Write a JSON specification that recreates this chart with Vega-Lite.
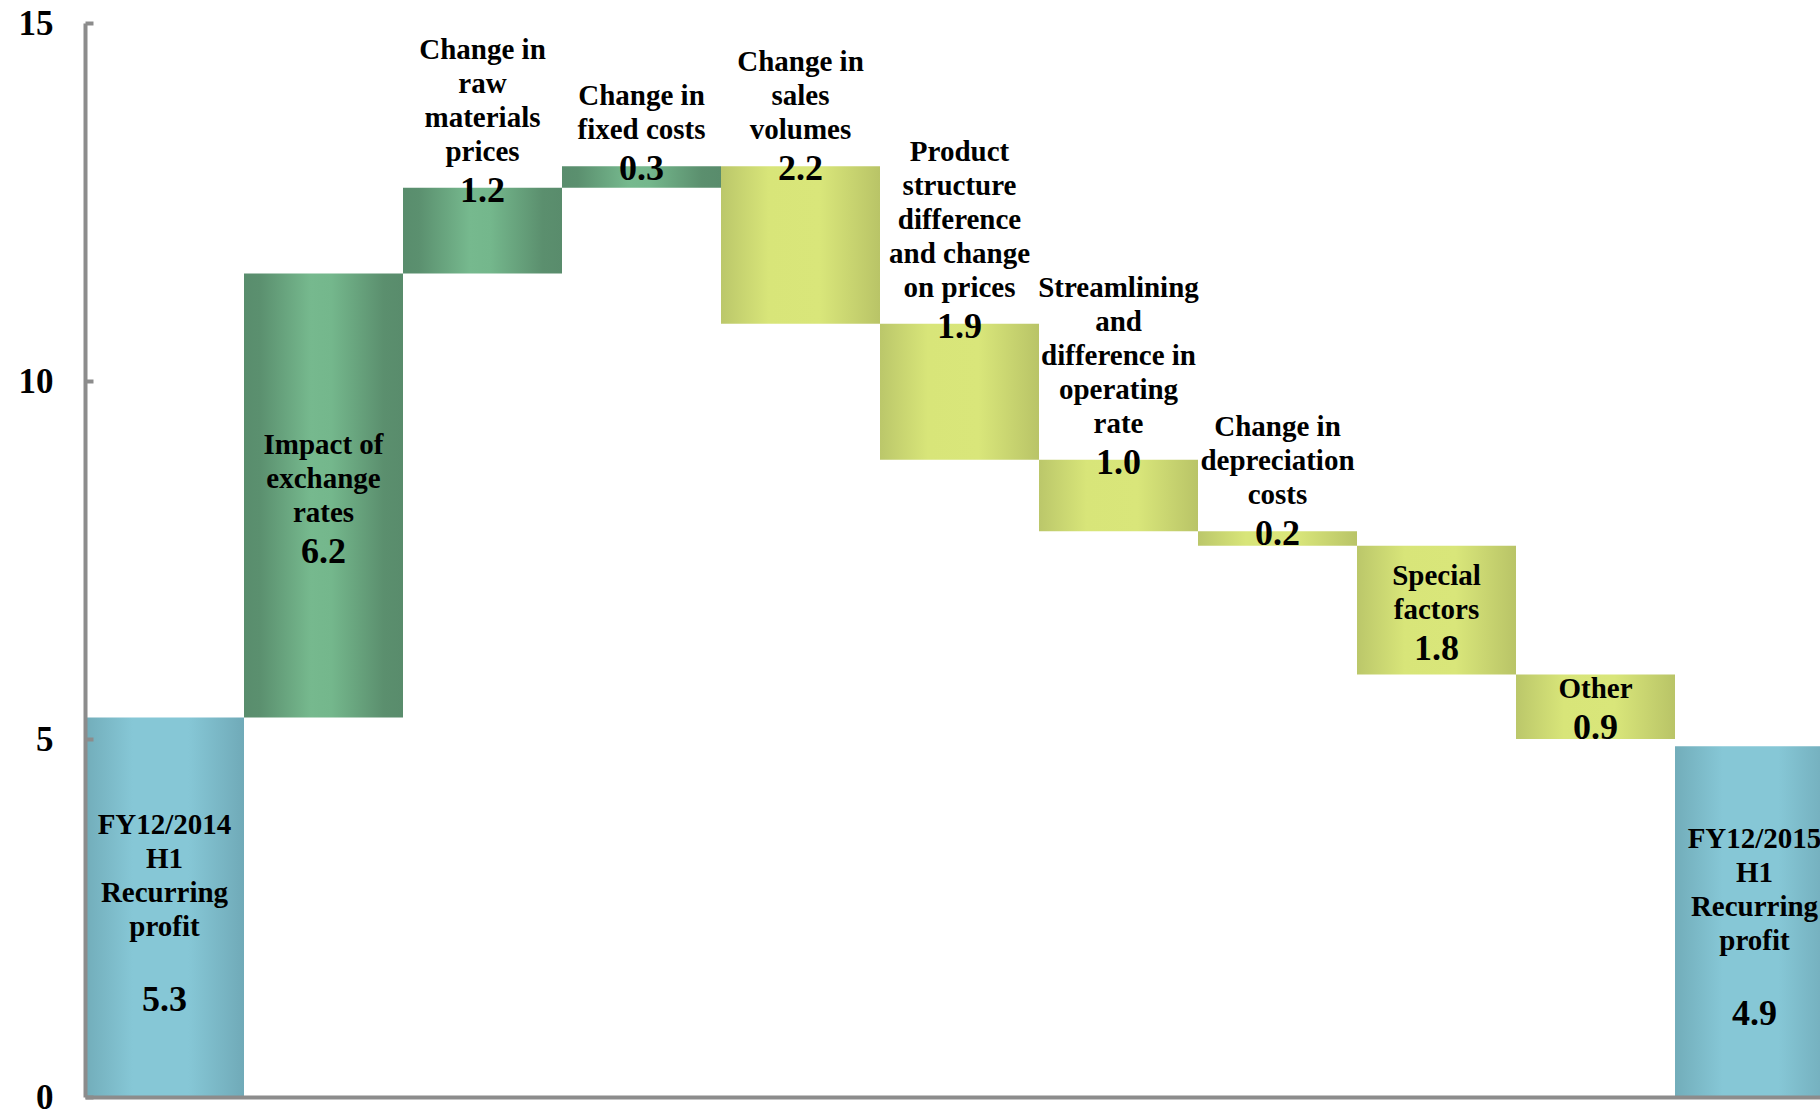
{
  "$schema": "https://vega.github.io/schema/vega-lite/v6.json",
  "width": 1735,
  "height": 1074,
  "autosize": {"type": "none"},
  "padding": {"left": 85, "top": 23, "right": 0, "bottom": 12},
  "background": "white",
  "config": {"view": {"stroke": null}, "font": "Liberation Serif"},
  "data": {
    "values": [
      {"label": "FY12/2014\nH1\nRecurring\nprofit\n", "start": 0, "end": 5.3, "value": 5.3, "kind": "total", "place": "inside"},
      {"label": "Impact of\nexchange\nrates", "start": 5.3, "end": 11.5, "value": 6.2, "kind": "up", "place": "inside"},
      {"label": "Change in\nraw\nmaterials\nprices", "start": 11.5, "end": 12.7, "value": 1.2, "kind": "up", "place": "above"},
      {"label": "Change in\nfixed costs", "start": 12.7, "end": 13.0, "value": 0.3, "kind": "up", "place": "above"},
      {"label": "Change in\nsales\nvolumes", "start": 13.0, "end": 10.8, "value": 2.2, "kind": "down", "place": "above"},
      {"label": "Product\nstructure\ndifference\nand change\non prices", "start": 10.8, "end": 8.9, "value": 1.9, "kind": "down", "place": "above"},
      {"label": "Streamlining\nand\ndifference in\noperating\nrate", "start": 8.9, "end": 7.9, "value": 1.0, "kind": "down", "place": "above"},
      {"label": "Change in\ndepreciation\ncosts", "start": 7.9, "end": 7.7, "value": 0.2, "kind": "down", "place": "above"},
      {"label": "Special\nfactors", "start": 7.7, "end": 5.9, "value": 1.8, "kind": "down", "place": "inside"},
      {"label": "Other", "start": 5.9, "end": 5.0, "value": 0.9, "kind": "down", "place": "inside"},
      {"label": "FY12/2015\nH1\nRecurring\nprofit\n", "start": 0, "end": 4.9, "value": 4.9, "kind": "total", "place": "inside"}
    ]
  },
  "transform": [
    {"calculate": "max(datum.start, datum.end)", "as": "top"},
    {"calculate": "length(split(datum.label, '\\n'))", "as": "nlines"},
    {"calculate": "datum.place === 'inside' ? (datum.start + datum.end) / 2 - datum.nlines * 0.25 : datum.top", "as": "anchor"},
    {"calculate": "datum.anchor + (21 + (datum.nlines - 1) * 34) / 71.6", "as": "cat_anchor"}
  ],
  "encoding": {
    "x": {
      "field": "label",
      "type": "nominal",
      "sort": null,
      "scale": {"range": [0, 1749], "paddingInner": 0, "paddingOuter": 0},
      "axis": {"title": null, "labels": false, "ticks": false, "domainColor": "#8c8c8c", "domainWidth": 4, "zindex": 1}
    }
  },
  "layer": [
    {
      "mark": {"type": "bar", "stroke": null},
      "encoding": {
        "y": {
          "field": "start",
          "type": "quantitative",
          "scale": {"domain": [0, 15], "nice": false},
          "axis": {
            "title": null,
            "values": [0, 5, 10, 15],
            "format": "d",
            "grid": false,
            "labelFont": "Liberation Serif",
            "labelFontSize": 35,
            "labelFontWeight": "bold",
            "labelColor": "black",
            "domainColor": "#8c8c8c",
            "domainWidth": 4,
            "tickColor": "#8c8c8c",
            "tickWidth": 4,
            "tickSize": -8,
            "labelPadding": 40,
            "zindex": 1
          }
        },
        "y2": {"field": "end"},
        "color": {
          "condition": [
            {
              "test": "datum.kind === 'total'",
              "value": {"gradient": "linear", "x1": 0, "y1": 0, "x2": 1, "y2": 0,
                "stops": [
                  {"offset": 0, "color": "#72adba"},
                  {"offset": 0.3, "color": "#86c7d6"},
                  {"offset": 0.65, "color": "#86c7d6"},
                  {"offset": 1, "color": "#70aab8"}
                ]}
            },
            {
              "test": "datum.kind === 'up'",
              "value": {"gradient": "linear", "x1": 0, "y1": 0, "x2": 1, "y2": 0,
                "stops": [
                  {"offset": 0, "color": "#598d6d"},
                  {"offset": 0.1, "color": "#5b906f"},
                  {"offset": 0.42, "color": "#76b98e"},
                  {"offset": 0.55, "color": "#74b78c"},
                  {"offset": 0.88, "color": "#5b8f6e"},
                  {"offset": 1, "color": "#598c6c"}
                ]}
            }
          ],
          "value": {"gradient": "linear", "x1": 0, "y1": 0, "x2": 1, "y2": 0,
            "stops": [
              {"offset": 0, "color": "#bbc76a"},
              {"offset": 0.3, "color": "#d8e579"},
              {"offset": 0.62, "color": "#d9e67a"},
              {"offset": 1, "color": "#b9c467"}
            ]}
        }
      }
    },
    {
      "mark": {"type": "text", "baseline": "bottom", "fontSize": 29, "fontWeight": "bold", "lineHeight": 34, "lineBreak": "\n", "font": "Liberation Serif", "color": "black"},
      "encoding": {
        "y": {"field": "cat_anchor", "type": "quantitative"},
        "text": {"field": "label", "type": "nominal"}
      }
    },
    {
      "mark": {"type": "text", "baseline": "middle", "dy": 3, "fontSize": 36, "fontWeight": "bold", "font": "Liberation Serif", "color": "black"},
      "encoding": {
        "y": {"field": "anchor", "type": "quantitative"},
        "text": {"field": "value", "type": "quantitative", "format": ".1f"}
      }
    }
  ]
}
